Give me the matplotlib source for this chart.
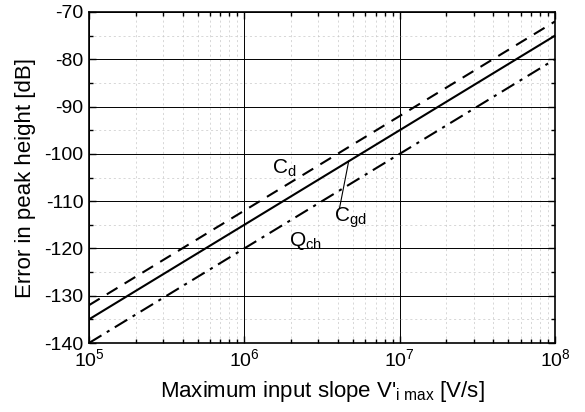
import numpy as np
import matplotlib.pyplot as plt
from matplotlib.ticker import LogLocator, MultipleLocator, FixedLocator

plt.rcParams['font.family'] = ['Liberation Sans', 'DejaVu Sans']
plt.rcParams['mathtext.fontset'] = 'custom'
plt.rcParams['mathtext.rm'] = 'Liberation Sans'
plt.rcParams['mathtext.it'] = 'Liberation Sans'
plt.rcParams['axes.unicode_minus'] = False

slope = [1e5, 1e6, 1e7, 1e8]
err_cd = [-132, -112, -92, -72]
err_cgd = [-135, -115, -95, -75]
err_qch = [-140, -120, -100, -80]

fig = plt.figure(figsize=(5.85, 4.12), dpi=100)
ax = fig.add_axes([89/585, 1-343/412, (555-89)/585, (343-12)/412])

ax.plot(slope, err_cd, color='black', lw=1.5, ls=(0, (6, 4)))
ax.plot(slope, err_cgd, color='black', lw=1.5, ls='-')
ax.plot(slope, err_qch, color='black', lw=1.5, ls=(0, (7, 3, 1.5, 3)))

ax.set_xscale('log')
ax.set_xlim(1e5, 1e8)
ax.set_ylim(-140, -70)
ax.yaxis.set_major_locator(MultipleLocator(10))
ax.yaxis.set_minor_locator(MultipleLocator(5))
ax.xaxis.set_major_locator(FixedLocator(slope))
ax.xaxis.set_minor_locator(LogLocator(base=10, subs=np.arange(2, 10)))
ax.set_xticklabels(['$10^5$', '$10^6$', '$10^7$', '$10^8$'])

ax.grid(which='major', color='black', lw=0.7)
ax.grid(which='minor', color='#c8c8c8', lw=0.5, ls=(0, (3, 4)))
ax.tick_params(which='both', direction='in', top=True, right=True, labelsize=14)
ax.tick_params(which='major', length=5, width=1, pad=4)
ax.tick_params(which='minor', length=3, width=1)
for s in ax.spines.values():
    s.set_linewidth(1.2)

ax.set_xlabel("Maximum input slope V'$_{\\mathregular{i\\ max}}$ [V/s]", fontsize=16, labelpad=6)
ax.set_ylabel('Error in peak height [dB]', fontsize=16, labelpad=6)

ax.text(1.5e6, -103, '$\\mathregular{C_d}$', fontsize=15, ha='left', va='center')
ax.text(3.8e6, -113.5, '$\\mathregular{C_{gd}}$', fontsize=15, ha='left', va='center')
ax.text(1.95e6, -118.5, '$\\mathregular{Q_{ch}}$', fontsize=15, ha='left', va='center')
ax.plot([4.7e6, 4.1e6], [-101.5, -111.5], color='black', lw=0.8)

fig.savefig('out.png', dpi=100)
